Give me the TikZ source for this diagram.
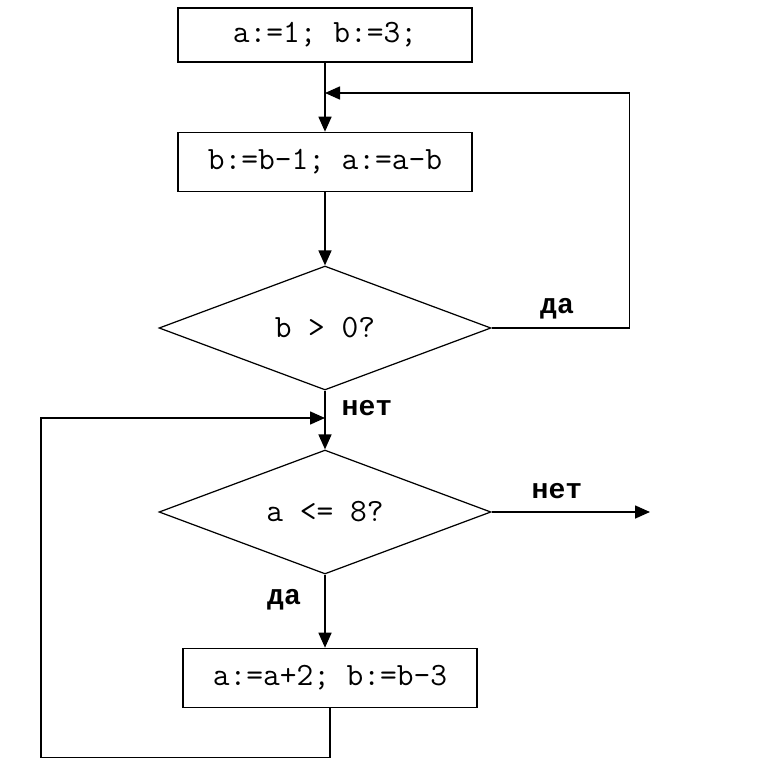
\documentclass[tikz,border=0pt]{standalone}
\usepackage{fontspec}
\newfontfamily\cyrmono{Liberation Mono}
\usetikzlibrary{shapes.geometric,arrows.meta}

\begin{document}
\begin{tikzpicture}[x=0.02cm, y=-0.02cm, line width=0.9pt,
  blk/.style={draw, rectangle, minimum width=5.88cm, minimum height=1.08cm, font=\ttfamily\addfontfeatures{FakeBold=0.8}\fontsize{18.5}{20}\selectfont},
  cond/.style={draw, diamond, aspect=2.66, minimum width=6.64cm, minimum height=2.48cm, inner sep=0pt, line width=0.7pt, font=\ttfamily\addfontfeatures{FakeBold=0.8}\fontsize{18.5}{20}\selectfont},
  lbl/.style={font=\cyrmono\bfseries\fontsize{16}{18}\selectfont},
  arr/.style={-{Triangle[length=0.3cm,width=0.26cm]}}]
\useasboundingbox (0,0) rectangle (763,767);
% blocks
\node[blk] (init) at (325,35) {a:=1; b:=3;};
\node[blk, minimum height=1.18cm] (step1) at (325,162) {b:=b-1; a:=a-b};
\node[cond] (test1) at (325,328) {b > 0?};
\node[cond] (test2) at (325,512) {a <= 8?};
\node[blk, minimum height=1.18cm] (step2) at (330,678) {a:=a+2; b:=b-3};
\coordinate (join1) at (325,93);
\coordinate (join2) at (325,418);
\coordinate (out) at (650,512);
% labels
\node[lbl] (yes1) at (557,309) {да};
\node[lbl] (no1) at (367,408) {нет};
\node[lbl] (no2) at (557,491) {нет};
\node[lbl] (yes2) at (284,600) {да};
% connectors
\draw[arr] (init.south) -- (step1.north);
\draw[arr] (step1.south) -- (test1.north);
\draw[arr] (test1.east) -- ++(138,0) |- (join1);
\draw[arr] (test1.south) -- (test2.north);
\draw[arr] (test2.east) -- (out);
\draw[arr] (test2.south) -- (test2.south |- step2.north);
\draw[arr] (step2.south) -- ++(0,49) -| (41,418) -- (join2);
\end{tikzpicture}
\end{document}
